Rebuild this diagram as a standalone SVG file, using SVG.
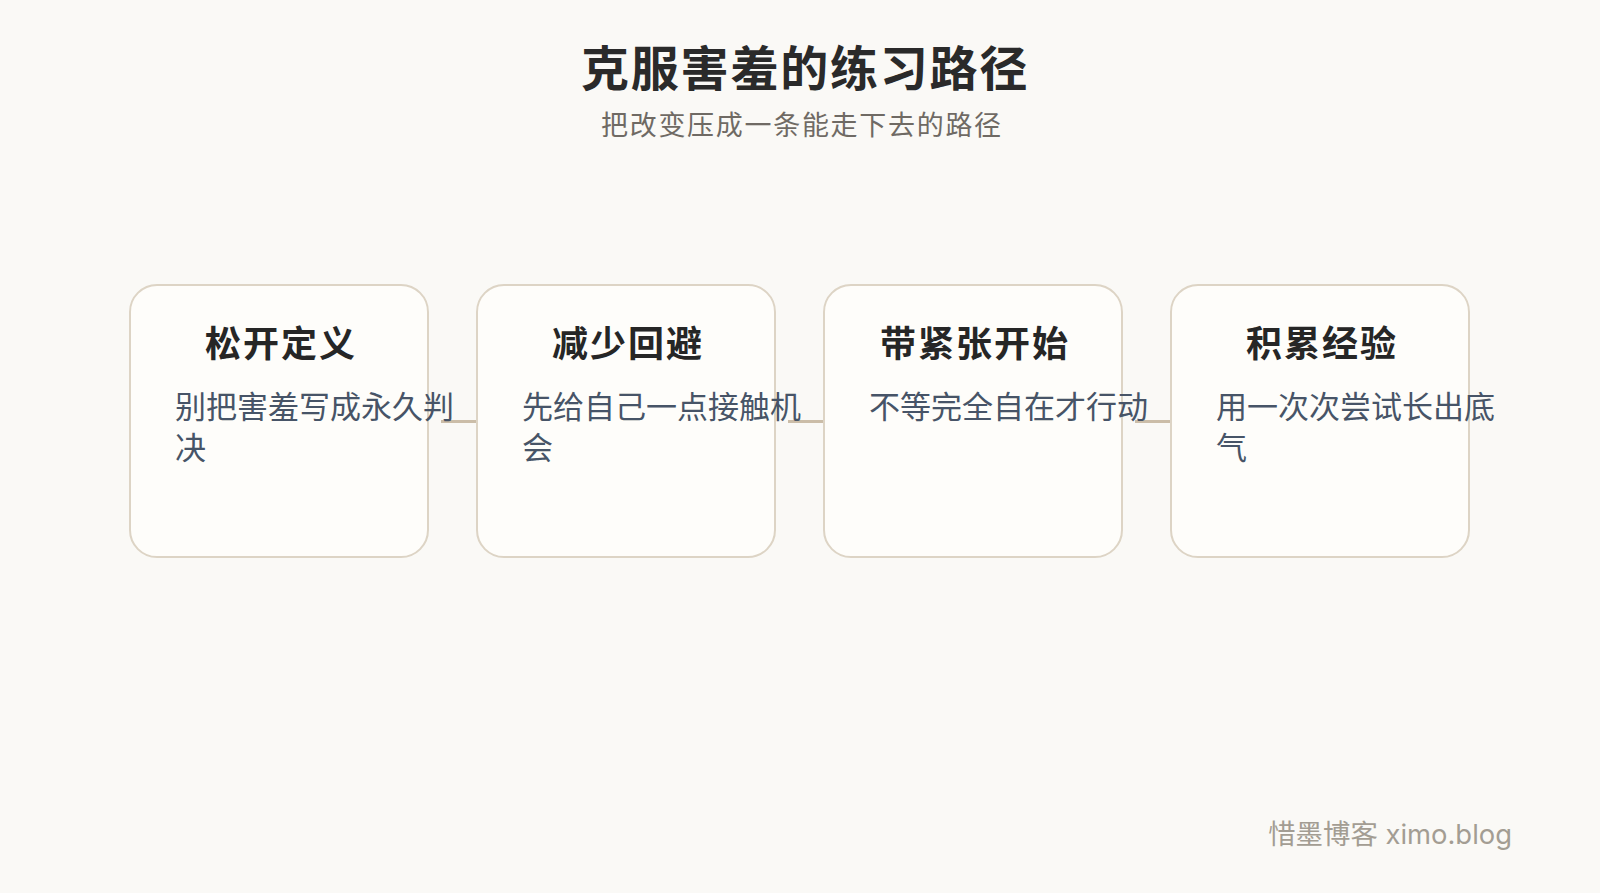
<svg xmlns="http://www.w3.org/2000/svg" width="1600" height="893" viewBox="0 0 1600 893">
<style>
.cjk{font-family:"Noto Sans CJK SC","Noto Sans",sans-serif}
.box{fill:#fefdfa;stroke:#ddd4c5;stroke-width:2}
.conn{stroke:#cbbda8;stroke-width:3;fill:none}
.title{font-size:48px;font-weight:700;fill:#2a2a2a;letter-spacing:1.8px}
.sub{font-size:27px;fill:#6f6a64;letter-spacing:1.7px}
.nt{font-size:36px;font-weight:700;fill:#262626;letter-spacing:2px;text-anchor:middle}
.nb{font-size:31px;fill:#475467}
.wm{font-family:Inter,"Noto Sans CJK SC",sans-serif;font-size:27.4px;fill:#a39d93;text-anchor:end}
</style>
<rect width="1600" height="893" fill="#faf9f6"/>
<text class="cjk title" x="581" y="86">克服害羞的练习路径</text>
<text class="cjk sub" x="601" y="135">把改变压成一条能走下去的路径</text>
<g id="connectors">
<line class="conn" x1="441" y1="421.5" x2="477" y2="421.5"/>
<line class="conn" x1="788" y1="421.5" x2="824" y2="421.5"/>
<line class="conn" x1="1135" y1="421.5" x2="1171" y2="421.5"/>
</g>
<g id="node1">
<rect class="box" x="130" y="285" width="298" height="272" rx="27"/>
<text class="cjk nt" x="281" y="357">松开定义</text>
<text class="cjk nb" x="175" y="418">别把害羞写成永久判</text>
<text class="cjk nb" x="175" y="459">决</text>
</g>
<g id="node2">
<rect class="box" x="477" y="285" width="298" height="272" rx="27"/>
<text class="cjk nt" x="628" y="357">减少回避</text>
<text class="cjk nb" x="522" y="418">先给自己一点接触机</text>
<text class="cjk nb" x="522" y="459">会</text>
</g>
<g id="node3">
<rect class="box" x="824" y="285" width="298" height="272" rx="27"/>
<text class="cjk nt" x="975" y="357">带紧张开始</text>
<text class="cjk nb" x="869" y="418">不等完全自在才行动</text>
</g>
<g id="node4">
<rect class="box" x="1171" y="285" width="298" height="272" rx="27"/>
<text class="cjk nt" x="1322" y="357">积累经验</text>
<text class="cjk nb" x="1216" y="418">用一次次尝试长出底</text>
<text class="cjk nb" x="1216" y="459">气</text>
</g>
<text class="wm" x="1512" y="844">惜墨博客 ximo.blog</text>
</svg>
